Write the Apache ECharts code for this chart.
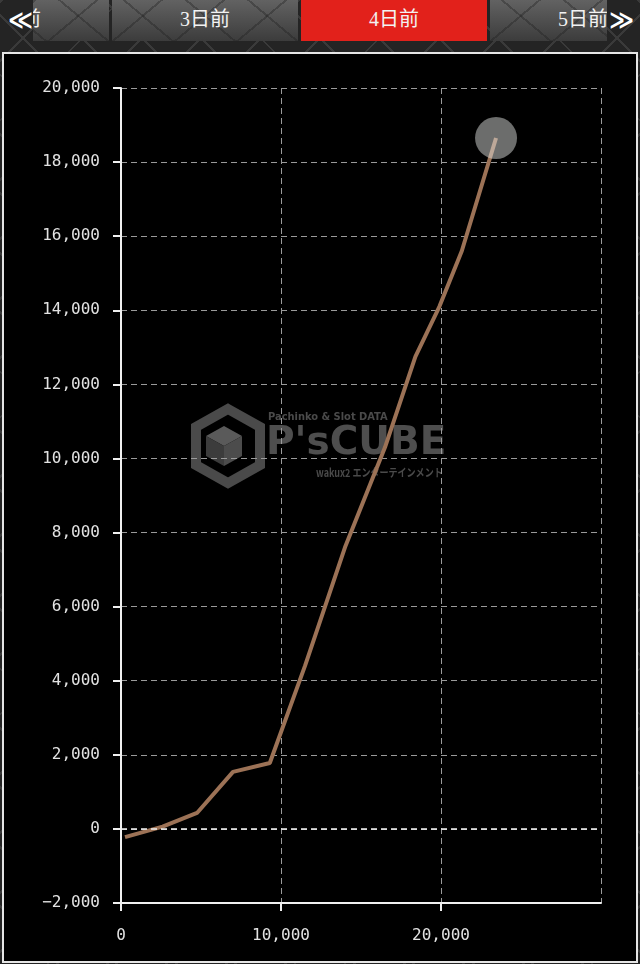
<!DOCTYPE html>
<html>
<head>
<meta charset="utf-8">
<script src="https://cdn.jsdelivr.net/npm/echarts@6/dist/echarts.min.js"></script>
<style>
  html, body { margin:0; padding:0; width:640px; height:964px; overflow:hidden; }
  body {
    background-color:#242424;
    background-image:
      repeating-linear-gradient(45deg, rgba(0,0,0,0) 0 40px, #3a3a3a 40px 42px),
      repeating-linear-gradient(-45deg, rgba(0,0,0,0) 0 40px, #3a3a3a 40px 42px);
    position:relative;
  }
  #tabs { position:absolute; left:33px; top:0; width:574px; height:41px; overflow:hidden; }
  .tab {
    position:absolute; top:0; height:41px; width:186px;
    background-color:#4a4a4a;
    background-image:
      repeating-linear-gradient(40deg, rgba(0,0,0,0) 0 38px, rgba(30,30,30,0.35) 38px 40px),
      repeating-linear-gradient(-40deg, rgba(0,0,0,0) 0 38px, rgba(30,30,30,0.35) 38px 40px),
      linear-gradient(#626262, #3c3c3c);
    color:#f2f2f2; font-family:"Liberation Serif","Noto Sans CJK JP",serif; font-size:20px;
    line-height:38px; text-align:center;
  }
  .tab.active { background:#e2211b; }
  .arrow { position:absolute; top:0; height:41px; width:33px; color:#fff;
    font-family:"DejaVu Sans",sans-serif; font-weight:bold; font-size:24px; line-height:40px; text-align:center; }
  #panel { position:absolute; left:2px; top:52px; width:632px; height:907px; background:#000;
    border:2px solid #e6e6e6; }
  #chart { position:absolute; left:0; top:0; width:640px; height:964px; }
</style>
</head>
<body>
<div id="tabs"></div>
<div class="arrow" style="left:4px;">≪</div>
<div class="arrow" style="left:605px;">≫</div>
<div id="panel"></div>
<div id="chart"></div>
<script>
// ---- data ----
const tabLabels = ['2日前', '3日前', '4日前', '5日前'];
const activeTab = '4日前';
const xValues = [250, 2600, 4750, 7000, 9300, 11500, 14000, 16500, 18400, 19900, 21300, 23440];
const yValues = [-220, 60, 430, 1540, 1780, 4400, 7600, 10300, 12750, 14100, 15600, 18650];
const xMin = 0, xMax = 30000, xStep = 10000;
const yMin = -2000, yMax = 20000, yStep = 2000;
const watermarkTop = 'Pachinko & Slot DATA';
const watermarkMain = "P'sCUBE";
const watermarkSub = 'wakux2 エンターテインメント';

// ---- tabs ----
const tabsEl = document.getElementById('tabs');
tabLabels.forEach((t, i) => {
  const d = document.createElement('div');
  d.className = 'tab' + (t === activeTab ? ' active' : '');
  d.style.left = (-110 + i * 189) + 'px';
  d.textContent = t;
  tabsEl.appendChild(d);
});

// ---- chart ----
const chart = echarts.init(document.getElementById('chart'), null, { renderer: 'canvas' });
const fmt = v => Number(v).toLocaleString('en-US').replace('-', '\u2212');
const pts = xValues.map((x, i) => [x, yValues[i]]);
const last = pts[pts.length - 1];
const wmColor = '#4a4a4a';

chart.setOption({
  backgroundColor: 'transparent',
  animation: false,
  grid: { left: 121, top: 88, right: 39, bottom: 61, containLabel: false },
  xAxis: {
    type: 'value', min: xMin, max: xMax, interval: xStep,
    axisLine: { onZero: false, lineStyle: { color: '#f0f0f0', width: 2 } },
    axisTick: { show: true, length: 8, lineStyle: { color: '#f0f0f0', width: 2 } },
    axisLabel: { color: '#e2e2e2', fontFamily: 'DejaVu Sans Mono', fontSize: 16, margin: 25,
      showMaxLabel: false, formatter: fmt },
    splitLine: { show: true, lineStyle: { color: '#9a9a9a', type: [6, 4], width: 1 } }
  },
  yAxis: {
    type: 'value', min: yMin, max: yMax, interval: yStep,
    axisLine: { show: true, onZero: false, lineStyle: { color: '#f0f0f0', width: 2 } },
    axisTick: { show: true, length: 8, lineStyle: { color: '#f0f0f0', width: 2 } },
    axisLabel: { color: '#e2e2e2', fontFamily: 'DejaVu Sans Mono', fontSize: 16, margin: 21, formatter: fmt },
    splitLine: { show: true, lineStyle: { color: '#9a9a9a', type: [6, 4], width: 1 } }
  },
  graphic: [
    { type: 'polygon', z: -10, shape: { points: [[228,409],[260,427],[260,465],[228,483],[196,465],[196,427]] },
      style: { fill: 'none', stroke: wmColor, lineWidth: 10 } },
    { type: 'polygon', z: -10, shape: { points: [[224,426],[242,436],[224,446],[206,436]] }, style: { fill: '#5a5a5a' } },
    { type: 'polygon', z: -10, shape: { points: [[206,436],[224,446],[224,466],[206,456]] }, style: { fill: '#3c3c3c' } },
    { type: 'polygon', z: -10, shape: { points: [[242,436],[224,446],[224,466],[242,456]] }, style: { fill: '#4c4c4c' } },
    { type: 'text', z: -10, left: 268, top: 412,
      style: { text: watermarkTop, fill: wmColor, font: 'bold 11px "DejaVu Sans Condensed", "DejaVu Sans"' } },
    { type: 'text', z: -10, left: 266, top: 424,
      style: { text: watermarkMain, fill: '#4e4e4e', font: 'bold 39px "DejaVu Sans"' } },
    { type: 'text', z: -10, x: 316, y: 467, scaleX: 0.82,
      style: { text: watermarkSub, fill: wmColor, font: 'bold 11px "Noto Sans CJK JP"' } }
  ],
  series: [
    {
      type: 'line', data: pts, showSymbol: false, symbol: 'none', z: 3,
      lineStyle: { color: '#9c7256', width: 4 },
      markLine: {
        silent: true, symbol: 'none', label: { show: false },
        lineStyle: { color: '#f2f2f2', type: [6, 4], width: 1.5 },
        data: [{ yAxis: 0 }]
      }
    },
    {
      type: 'scatter', data: [last], symbolSize: 42, z: 5,
      itemStyle: { color: 'rgba(225,228,225,0.6)' }
    }
  ]
});
</script>
</body>
</html>
